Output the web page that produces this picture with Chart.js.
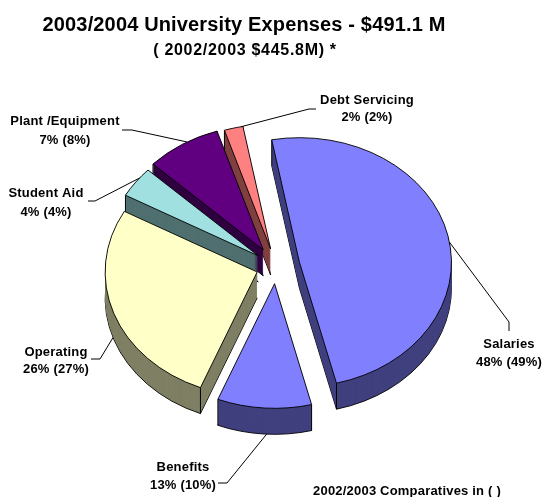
<!DOCTYPE html>
<html>
<head>
<meta charset="utf-8">
<script src="https://cdn.jsdelivr.net/npm/chart.js@4"></script>
<style>
  html, body { margin: 0; padding: 0; background: #ffffff; }
  canvas { display: block; }
</style>
</head>
<body>
<canvas id="pieChart" width="545" height="497"></canvas>
<script>
const categories = ['Salaries', 'Benefits', 'Operating', 'Student Aid', 'Plant /Equipment', 'Debt Servicing'];
// the slices in the picture follow the 2002/2003 shares
const drawnShares = [49, 10, 27, 4, 8, 2];
const labels0304 = ['48%', '13%', '26%', '4%', '7%', '2%'];
const labels0203 = ['49%', '10%', '27%', '4%', '8%', '2%'];

const topColors = ['#8080FF', '#8080FF', '#FFFFC8', '#A0E0E0', '#600080', '#FF8080'];
const wallColors = ['#40407F', '#40407F', '#7F7F64', '#507070', '#300040', '#804040'];
const explode = [24, 21, 20, 22, 24, 22];

const squash = 0.82;
const depth = 26;

// label text centre and the leader from the rim (frac along the slice) through the elbows
const callouts = [
    { i: 0, x: 509, y: 344, gap: 18, frac: 0.517, wall: false, elbows: [[509, 322], [509, 331]] },
    { i: 1, x: 183, y: 467, gap: 18, frac: 0.475, wall: true, elbows: [[227, 483], [218, 483]] },
    { i: 2, x: 56, y: 352, gap: 17, frac: 0.51, wall: true, elbows: [[100, 359], [91, 359]] },
    { i: 3, x: 46, y: 193, gap: 19, frac: 0.66, wall: false, elbows: [[95, 201], [88, 201]] },
    { i: 4, x: 65, y: 121, gap: 19, frac: 0.57, wall: false, elbows: [[132, 130], [122, 130]] },
    { i: 5, x: 367, y: 100, gap: 17, frac: 0.9, wall: false, elbows: [[309, 109], [316, 109]] }
];

function sliceCentre(arc, i) {
    const mid = (arc.startAngle + arc.endAngle) / 2;
    return {
        x: arc.x + Math.cos(mid) * explode[i],
        y: arc.y + Math.sin(mid) * explode[i] * squash
    };
}

function rimPoint(arc, i, angle) {
    const c = sliceCentre(arc, i);
    return {
        x: c.x + Math.cos(angle) * arc.outerRadius,
        y: c.y + Math.sin(angle) * arc.outerRadius * squash
    };
}

function drawLayer(ctx, arc, i, drop, fill, border) {
    const c = sliceCentre(arc, i);
    const saved = arc.options;
    arc.options = {
        backgroundColor: fill,
        borderColor: '#000000',
        borderWidth: border,
        borderAlign: 'center',
        borderJoinStyle: 'round',
        borderDash: [],
        borderDashOffset: 0,
        offset: 0,
        spacing: 0,
        circular: true
    };
    ctx.save();
    ctx.translate(c.x, c.y + drop);
    ctx.scale(1, squash);
    ctx.translate(-arc.x, -arc.y);
    arc.draw(ctx);
    ctx.restore();
    arc.options = saved;
}

function writeText(ctx, text, x, y, font, spacing) {
    ctx.font = font;
    ctx.letterSpacing = spacing;
    ctx.fillText(text, x, y);
    ctx.letterSpacing = '0px';
}

const tiltedPie = {
    id: 'tiltedPie',
    beforeDatasetsDraw(chart) {
        const ctx = chart.ctx;
        const arcs = chart.getDatasetMeta(0).data;
        // back to front
        for (let i = arcs.length - 1; i >= 0; i--) {
            const arc = arcs[i];
            drawLayer(ctx, arc, i, depth, wallColors[i], 1);
            for (let d = depth - 1; d > 0; d--) {
                drawLayer(ctx, arc, i, d, wallColors[i], 0);
            }
            ctx.strokeStyle = '#000000';
            ctx.lineWidth = 1;
            [arc.startAngle, arc.endAngle].forEach(function(a) {
                const p = rimPoint(arc, i, a);
                ctx.beginPath();
                ctx.moveTo(p.x, p.y);
                ctx.lineTo(p.x, p.y + depth);
                ctx.stroke();
            });
            drawLayer(ctx, arc, i, 0, topColors[i], 1);
        }
        return false;
    },
    afterDraw(chart) {
        const ctx = chart.ctx;
        const arcs = chart.getDatasetMeta(0).data;
        ctx.save();
        ctx.strokeStyle = '#000000';
        ctx.lineWidth = 1;
        callouts.forEach(function(c) {
            const arc = arcs[c.i];
            const p = rimPoint(arc, c.i, arc.startAngle + c.frac * (arc.endAngle - arc.startAngle));
            ctx.beginPath();
            ctx.moveTo(p.x, p.y + (c.wall ? depth : 0));
            c.elbows.forEach(function(e) { ctx.lineTo(e[0], e[1]); });
            ctx.stroke();
        });

        ctx.fillStyle = '#000000';
        ctx.textAlign = 'center';
        ctx.textBaseline = 'middle';
        writeText(ctx, '2003/2004 University Expenses - $491.1 M', 244, 25, 'bold 20px Arial, "Liberation Sans"', '0.15px');
        writeText(ctx, '( 2002/2003 $445.8M) *', 245, 51, 'bold 16px Arial, "Liberation Sans"', '0.7px');
        callouts.forEach(function(c) {
            writeText(ctx, categories[c.i], c.x, c.y, 'bold 13px Arial, "Liberation Sans"', '0.2px');
            writeText(ctx, labels0304[c.i] + ' (' + labels0203[c.i] + ')', c.x, c.y + c.gap, 'bold 13px Arial, "Liberation Sans"', '0.2px');
        });
        writeText(ctx, '2002/2003 Comparatives in ( )', 407, 491, 'bold 13px Arial, "Liberation Sans"', '0.2px');
        ctx.restore();
    }
};

const ctx2 = document.getElementById('pieChart').getContext('2d');
const pieChart = new Chart(ctx2, {
    type: 'pie',
    plugins: [tiltedPie],
    data: {
        labels: categories,
        datasets: [{
            data: drawnShares,
            backgroundColor: topColors,
            borderColor: '#000000',
            borderWidth: 1
        }]
    },
    options: {
        responsive: false,
        animation: false,
        events: [],
        rotation: -10.5,
        layout: {
            padding: { left: 7, right: 0, top: 114, bottom: 78 }
        },
        plugins: {
            legend: { display: false },
            tooltip: { enabled: false }
        }
    }
});
</script>
</body>
</html>
